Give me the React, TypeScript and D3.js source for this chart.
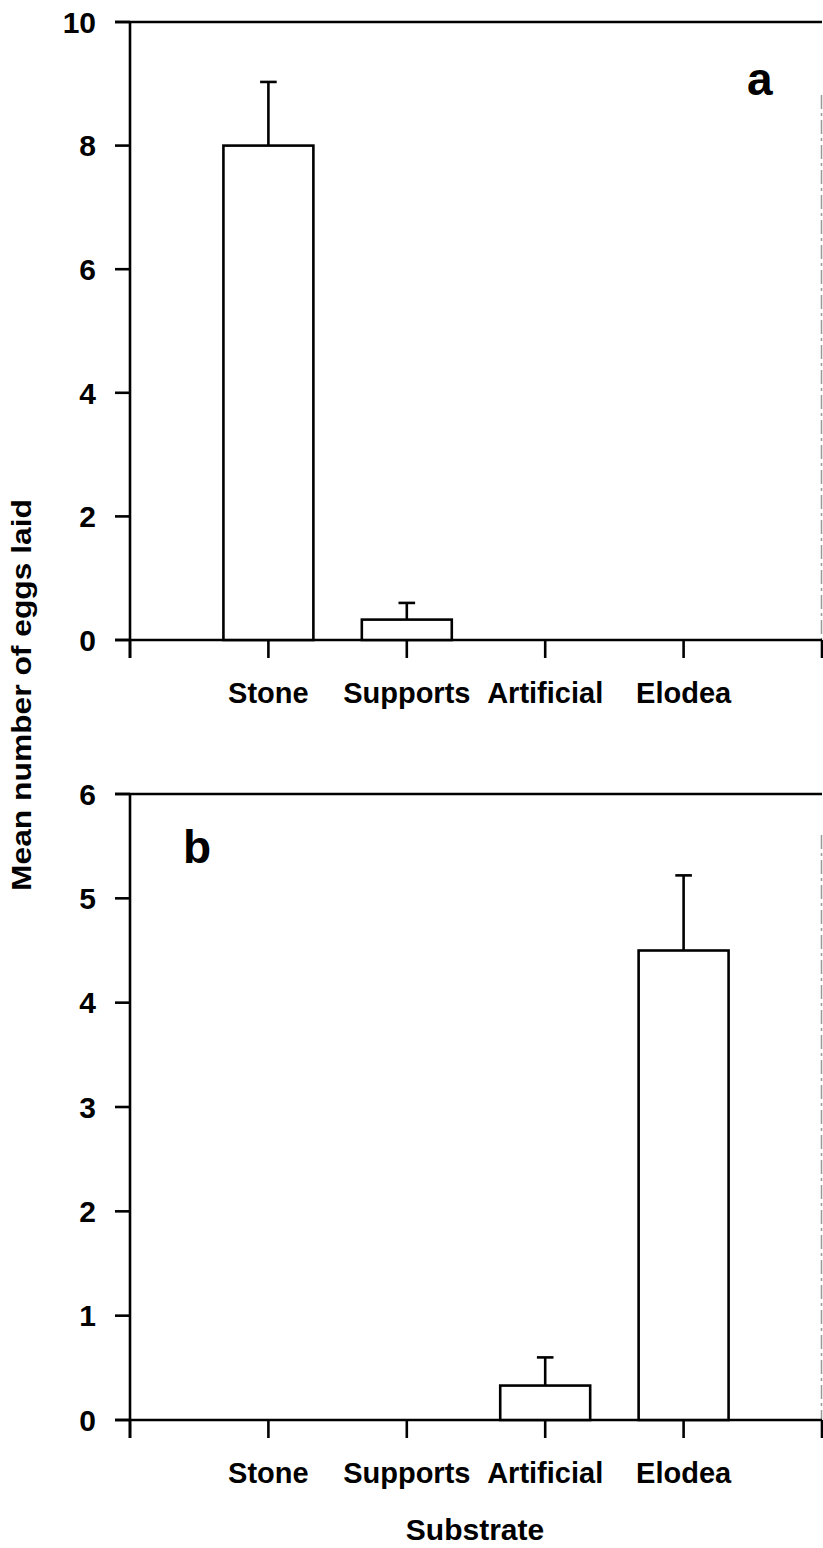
import React from "react";
import * as d3 from "d3";

const categories = ["Stone", "Supports", "Artificial", "Elodea"];
const meansA = [8.0, 0.33, 0, 0];
const errA = [1.03, 0.27, 0, 0];
const meansB = [0, 0, 0.33, 4.5];
const errB = [0, 0, 0.27, 0.72];
const ticksA = [0, 2, 4, 6, 8, 10];
const ticksB = [0, 1, 2, 3, 4, 5, 6];
const yTitle = "Mean number of eggs laid";
const xTitle = "Substrate";

const FONT = "'Liberation Sans', Arial, Helvetica, sans-serif";
const W = 823;
const H = 1548;
const LEFT = 130;
const RIGHT = 822;

type PanelProps = {
  means: number[];
  errs: number[];
  ticks: number[];
  yMax: number;
  top: number;
  bottom: number;
  letter: string;
  letterX: number;
  letterY: number;
  dashStart: number;
};

function Panel({ means, errs, ticks, yMax, top, bottom, letter, letterX, letterY, dashStart }: PanelProps) {
  const x = d3.scaleLinear().domain([0, 5]).range([LEFT, RIGHT]);
  const y = d3.scaleLinear().domain([0, yMax]).range([bottom, top]);
  const barW = x(0.65) - x(0);
  const capW = x(0.12) - x(0);
  const sw = 2.6;
  return (
    <g>
      <line x1={LEFT - 15} x2={RIGHT} y1={y(yMax)} y2={y(yMax)} stroke="#000" strokeWidth={sw} />
      <line x1={RIGHT - 0.5} x2={RIGHT - 0.5} y1={dashStart} y2={y(0)} stroke="#999" strokeWidth={1.5} strokeDasharray="14 4 3 4" />
      <line x1={LEFT} x2={LEFT} y1={y(yMax)} y2={y(0) + 18} stroke="#000" strokeWidth={sw} />
      <line x1={LEFT - 15} x2={RIGHT} y1={y(0)} y2={y(0)} stroke="#000" strokeWidth={sw} />
      {ticks.map((t) => (
        <g key={"yt" + t}>
          <line x1={LEFT - 15} x2={LEFT} y1={y(t)} y2={y(t)} stroke="#000" strokeWidth={sw} />
          <text x={LEFT - 34} y={y(t)} dy="0.36em" textAnchor="end" fontFamily={FONT} fontWeight="bold" fontSize={30} fill="#000">
            {t}
          </text>
        </g>
      ))}
      {d3.range(0, 6).map((i) => (
        <line key={"xt" + i} x1={x(i)} x2={x(i)} y1={y(0)} y2={y(0) + 18} stroke="#000" strokeWidth={sw} />
      ))}
      {categories.map((c, i) => (
        <text key={"xl" + c} x={x(i + 1)} y={y(0) + 63} textAnchor="middle" fontFamily={FONT} fontWeight="bold" fontSize={29} fill="#000">
          {c}
        </text>
      ))}
      {means.map((m, i) =>
        m > 0 ? (
          <g key={"b" + i}>
            <line x1={x(i + 1)} x2={x(i + 1)} y1={y(m)} y2={y(m + errs[i])} stroke="#000" strokeWidth={sw} />
            <line x1={x(i + 1) - capW / 2} x2={x(i + 1) + capW / 2} y1={y(m + errs[i])} y2={y(m + errs[i])} stroke="#000" strokeWidth={sw} />
            <rect x={x(i + 1) - barW / 2} y={y(m)} width={barW} height={y(0) - y(m)} fill="#fff" stroke="#000" strokeWidth={sw} />
          </g>
        ) : null
      )}
      <text x={letterX} y={letterY} fontFamily={FONT} fontWeight="bold" fontSize={46} fill="#000">
        {letter}
      </text>
    </g>
  );
}

export default function App() {
  return (
    <svg width={W} height={H} style={{ position: "absolute", left: 0, top: 0, background: "#fff" }}>
      <rect x={0} y={0} width={W} height={H} fill="#fff" />
      <Panel means={meansA} errs={errA} ticks={ticksA} yMax={10} top={22} bottom={640} letter="a" letterX={747} letterY={95} dashStart={95} />
      <Panel means={meansB} errs={errB} ticks={ticksB} yMax={6} top={794} bottom={1420} letter="b" letterX={183} letterY={863} dashStart={835} />
      <text
        transform={`translate(31, 695) rotate(-90)`}
        textAnchor="middle"
        fontFamily={FONT}
        fontWeight="bold"
        fontSize={27}
        textLength={392}
        lengthAdjust="spacingAndGlyphs"
        fill="#000"
      >
        {yTitle}
      </text>
      <text x={475} y={1540} textAnchor="middle" fontFamily={FONT} fontWeight="bold" fontSize={30} fill="#000">
        {xTitle}
      </text>
    </svg>
  );
}
